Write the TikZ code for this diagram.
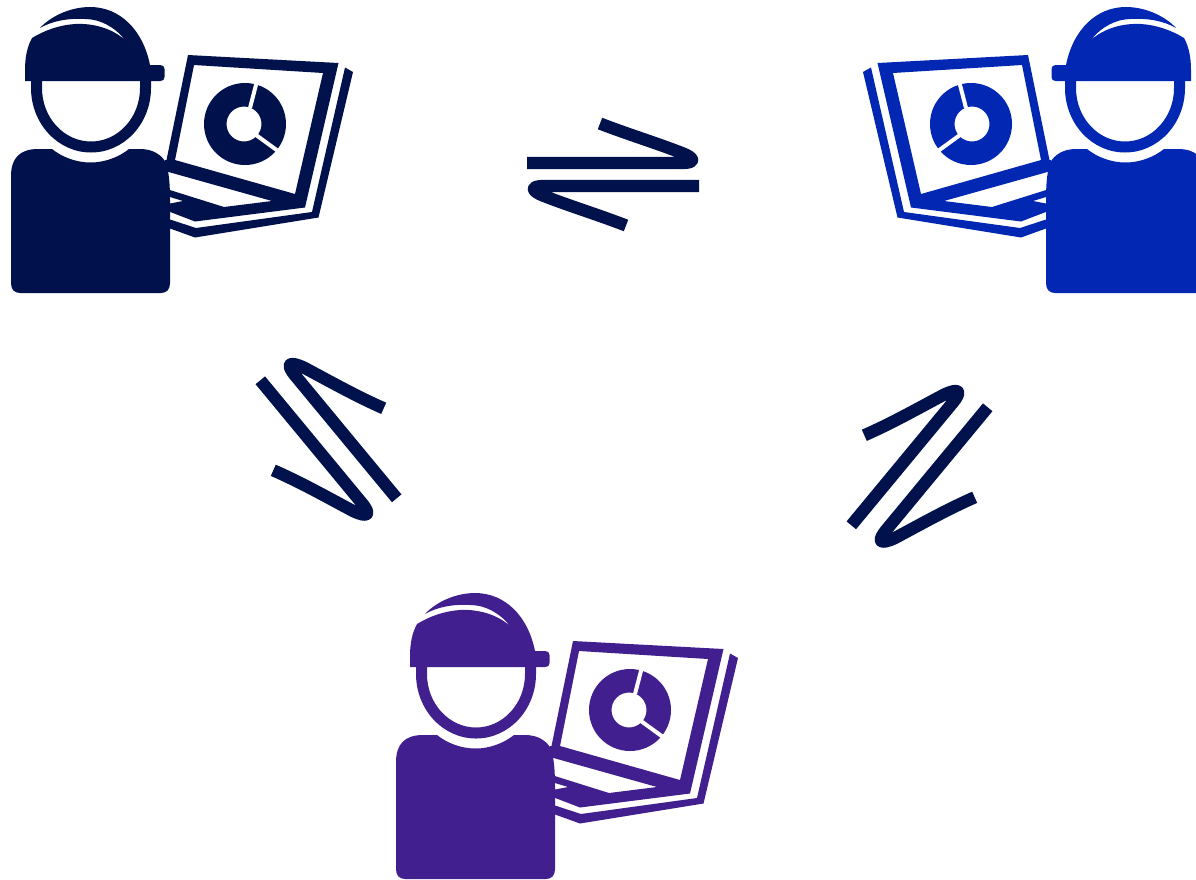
\documentclass[tikz,border=0pt]{standalone}
\definecolor{navy}{HTML}{00114B}
\definecolor{royal}{HTML}{0227B3}
\definecolor{violet}{HTML}{411F8E}
\tikzset{
  harp/.style={draw=navy,line width=12.3pt,line join=round,line cap=butt},
  gap/.style={draw=white,line width=4pt,line cap=butt}
}
\newcommand{\personicon}[1]{%
  % back sheet of laptop
  \fill[#1] (345,67.5) -- (353,72) -- (318.5,217.5) -- (195,237.5) -- (170,228.5) -- (170,219.5)
     -- (196,228) -- (312,212) -- cycle;
  % laptop with screen and keyboard holes
  \fill[#1,even odd rule]
     (188,55) -- (338.5,63) -- (305,207.5) -- (195,221.5) -- (165,210) -- (165,160) -- (166.5,160) -- cycle
     (194,65) -- (323,73) -- (295,194) -- (175,160) -- cycle
     (165,171) -- (272,201) -- (224,207) -- (165,188.5) -- cycle
     (165,195.5) -- (183,201) -- (165,204.5) -- cycle;
  % chart
  \fill[#1,even odd rule] (245,124) circle[radius=41] (244,124) circle[radius=17.5];
  \draw[gap] (250,108) -- (257,81);
  \draw[gap] (256,135) -- (278,151);
  % head
  \fill[#1] (31,81) -- (31,88) arc[start angle=180,end angle=0,x radius=60,y radius=64.5]
     -- (151,81) -- (140,81) -- (140,88) arc[start angle=0,end angle=180,x radius=49,y radius=53.5] -- (42,81) -- cycle;
  % cap
  \fill[#1] (25,81) -- (25,70) .. controls (25,58) and (27,47) .. (32,38)
     .. controls (45,30) and (60,25) .. (75,24)
     .. controls (92,23) and (112,28) .. (125,40)
     .. controls (115,27) and (100,19) .. (85,19)
     .. controls (68,18) and (52,21) .. (40,28)
     .. controls (52,15) and (72,7) .. (90,7)
     .. controls (120,7) and (143,30) .. (150,65)
     -- (160,65) .. controls (163,65) and (164.5,66.5) .. (164.5,69)
     -- (164.5,77) .. controls (164.5,80) and (163,81) .. (160,81) -- cycle;
  % body
  \fill[#1] (52,149) .. controls (62,157) and (76,162.5) .. (90.5,162.5)
     .. controls (105,162.5) and (119,157) .. (129,149)
     -- (140,149) .. controls (153,149) and (162,155) .. (166,163)
     .. controls (169,172) and (170,185) .. (170,200)
     -- (170,283) .. controls (170,289) and (167,293) .. (161,293)
     -- (20,293) .. controls (14,293) and (11,289) .. (11,283)
     -- (11,176) .. controls (11,158) and (20,149) .. (38,149) -- cycle;
}
\newcommand{\diagpair}{%
  \draw[harp] (260.3,380.3) -- (361,502) .. controls (372,515) and (368,518) .. (353,511)
     .. controls (326,496.5) and (300,482) .. (273.3,470.3);
  \draw[harp] (396.7,498.3) -- (296,376.6) .. controls (285,363.6) and (289,360.6) .. (304,367.6)
     .. controls (331,382) and (357,396.6) .. (383.7,408.3);
}
\begin{document}
\begin{tikzpicture}[x=1pt,y=-1pt]
  \useasboundingbox (0,0) rectangle (1196,879);
  \clip (0,0) rectangle (1196,879);
  \begin{scope}\personicon{navy}\end{scope}
  \begin{scope}[shift={(1216,0)},xscale=-1]\personicon{royal}\end{scope}
  \begin{scope}[shift={(385,586)}]\personicon{violet}\end{scope}
  % horizontal pair
  \draw[harp] (527,163) -- (682,163) .. controls (696,163) and (695,158) .. (682,153)
     .. controls (655,142.5) and (627,134) .. (600,123.5);
  \draw[harp] (699,186) -- (544,186) .. controls (530,186) and (531,191) .. (544,196)
     .. controls (571,206.5) and (599,215) .. (626,225.5);
  % left diagonal pair
  \diagpair
  % right diagonal pair
  \begin{scope}[shift={(1248,27)},xscale=-1]\diagpair\end{scope}
\end{tikzpicture}
\end{document}
